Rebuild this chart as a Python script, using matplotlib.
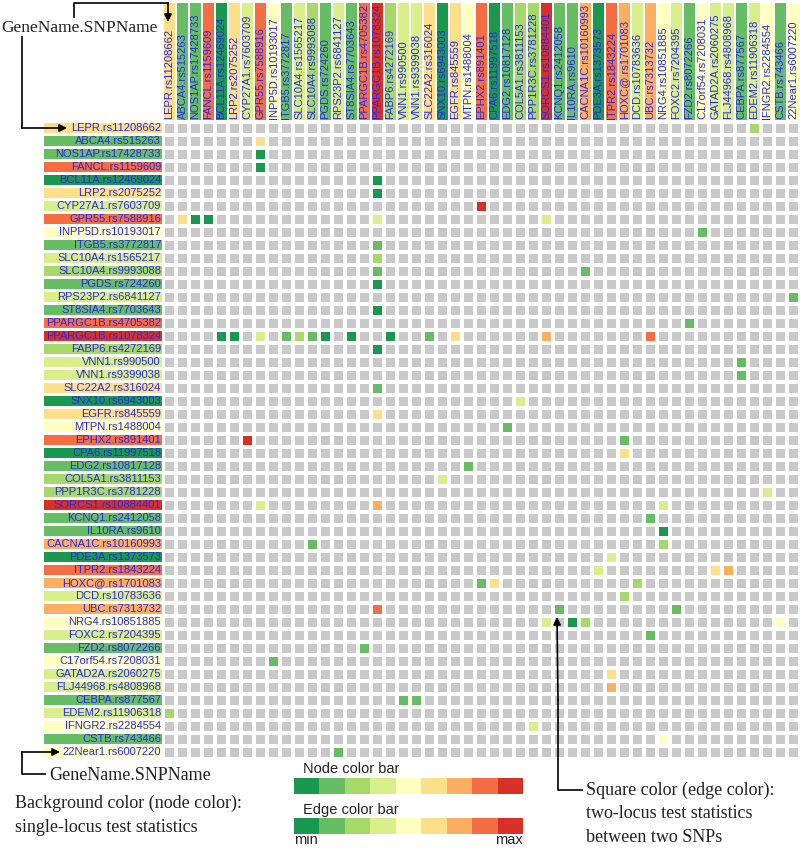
import numpy as np
import matplotlib
matplotlib.use('Agg')
import matplotlib.pyplot as plt
from matplotlib.colors import ListedColormap
from matplotlib.patches import Rectangle

# 9-step colour scale, min (green) -> max (red)
palette = ['#1a9850', '#66bd63', '#a6d96a', '#d9ef8b', '#ffffbf',
           '#fee08b', '#fdae61', '#f46d43', '#d73027']
grey = '#c9c9c9'
label_blue = '#2b2be0'

snps = ['LEPR.rs11208662', 'ABCA4.rs515263', 'NOS1AP.rs17428733', 'FANCL.rs1159609',
        'BCL11A.rs12469024', 'LRP2.rs2075252', 'CYP27A1.rs7603709', 'GPR55.rs7588916',
        'INPP5D.rs10193017', 'ITGB5.rs3772817', 'SLC10A4.rs1565217', 'SLC10A4.rs9993088',
        'PGDS.rs724260', 'RPS23P2.rs6841127', 'ST8SIA4.rs7703643', 'PPARGC1B.rs4705382',
        'PPARGC1B.rs1078324', 'FABP6.rs4272169', 'VNN1.rs990500', 'VNN1.rs9399038',
        'SLC22A2.rs316024', 'SNX10.rs6943003', 'EGFR.rs845559', 'MTPN.rs1488004',
        'EPHX2.rs891401', 'CPA6.rs11997518', 'EDG2.rs10817128', 'COL5A1.rs3811153',
        'PPP1R3C.rs3781228', 'SORCS1.rs10884401', 'KCNQ1.rs2412058', 'IL10RA.rs9610',
        'CACNA1C.rs10160993', 'PDE3A.rs1373573', 'ITPR2.rs1843224', 'HOXC@.rs1701083',
        'DCD.rs10783636', 'UBC.rs7313732', 'NRG4.rs10851885', 'FOXC2.rs7204395',
        'FZD2.rs8072266', 'C17orf54.rs7208031', 'GATAD2A.rs2060275', 'FLJ44968.rs4808968',
        'CEBPA.rs877567', 'EDEM2.rs11906318', 'IFNGR2.rs2284554', 'CSTB.rs743466',
        '22Near1.rs6007220']

# single-locus statistic, as colour level 0..8
node_level = [5, 1, 1, 7, 0, 5, 3, 7, 4, 1, 3, 2, 1, 3, 1, 7, 8, 2, 3, 3,
              5, 0, 5, 4, 7, 0, 1, 2, 2, 8, 1, 1, 6, 0, 7, 6, 3, 6, 4, 3,
              1, 4, 3, 3, 1, 3, 4, 1, 4]

# two-locus statistic for significant pairs (colour level 0..8)
edge_a = [0, 1, 2, 3, 4, 5, 6, 7, 7, 8, 9, 10, 11, 11, 12, 13, 14, 15, 16, 16,
          16, 16, 16, 18, 19, 21, 23, 24, 25, 28, 29, 30, 31, 32, 33, 34, 34, 35, 37, 38]
edge_b = [45, 7, 7, 7, 16, 16, 24, 16, 29, 41, 16, 16, 16, 32, 16, 48, 16, 40, 17, 20,
          22, 29, 37, 44, 44, 27, 26, 35, 35, 46, 38, 37, 38, 38, 34, 42, 43, 36, 39, 47]
edge_level = [2, 5, 0, 0, 0, 0, 8, 3, 3, 1, 1, 2, 1, 1, 0, 1, 0, 1, 0, 1,
              5, 6, 7, 1, 1, 3, 1, 1, 5, 3, 3, 1, 0, 2, 3, 5, 6, 2, 1, 4]

n = len(snps)
W, H = 800, 848
fig = plt.figure(figsize=(W / 100, H / 100), dpi=100)


def px_axes(x0, y0, x1, y1):
    return fig.add_axes([x0 / W, 1 - y1 / H, (x1 - x0) / W, (y1 - y0) / H])


# ---- matrix of squares ----
mat = np.full((n, n), 9)
for a, b, lv in zip(edge_a, edge_b, edge_level):
    mat[a, b] = lv
    mat[b, a] = lv

ax = px_axes(163, 121.5, 800, 758.5)
ax.pcolormesh(mat, cmap=ListedColormap(palette + [grey]), vmin=-0.5, vmax=9.5,
              edgecolors='white', linewidth=1.5)
ax.set_xlim(0, n)
ax.set_ylim(n, 0)
ax.axis('off')

lab_font = dict(family='Liberation Sans', fontsize=8, color=label_blue)
for i, name in enumerate(snps):
    c = palette[node_level[i]]
    # row label
    ax.add_patch(Rectangle((-9.15, i + 0.08), 9.05, 0.84, color=c, clip_on=False, lw=0))
    ax.text(-0.15, i + 0.5, name, ha='right', va='center', **lab_font)
    # column label
    ax.add_patch(Rectangle((i + 0.1, -9.12), 0.8, 9.0, color=c, clip_on=False, lw=0))
    ax.text(i + 0.5, -0.2, name, rotation=90, rotation_mode='anchor',
            ha='left', va='center', **lab_font)

# ---- explanatory notes ----
ov = fig.add_axes([0, 0, 1, 1])
ov.set_xlim(0, W)
ov.set_ylim(H, 0)
ov.axis('off')

serif = dict(family='Liberation Serif', fontsize=13, color='#222222', va='center')
sans = dict(family='Liberation Sans', fontsize=10.5, color='#222222', va='center')
arrow = dict(arrowstyle='-|>', color='black', lw=1.2, mutation_scale=11,
             shrinkA=0, shrinkB=0)

ov.text(1, 28, 'GeneName.SNPName', family='Liberation Serif', fontsize=12.5,
        color='#222222', va='center')
ov.plot([74, 74, 168], [17, 3, 3], color='black', lw=1.2)
ov.annotate('', xy=(168, 22), xytext=(168, 3), arrowprops=arrow)
ov.plot([22, 22], [37, 128], color='black', lw=1.2)
ov.annotate('', xy=(67, 128), xytext=(22, 128), arrowprops=arrow)

ov.plot([22, 22, 45], [752, 774, 774], color='black', lw=1.2)
ov.annotate('', xy=(60, 752), xytext=(22, 752), arrowprops=arrow)
ov.text(49, 775, 'GeneName.SNPName', **serif)
ov.text(15, 803, 'Background color (node color):', **serif)
ov.text(15, 827, 'single-locus test statistics', **serif)

ov.plot([558, 558, 582], [700, 790, 790], color='black', lw=1.2)
ov.annotate('', xy=(557, 617), xytext=(558, 700), arrowprops=arrow)
ov.text(586, 790, 'Square color (edge color):', **serif)
ov.text(586, 814, 'two-locus test statistics', **serif)
ov.text(586, 838, 'between two SNPs', **serif)

# ---- colour bars ----
ov.text(303, 769, 'Node color bar', **sans)
ov.text(303, 810, 'Edge color bar', **sans)
ov.text(294, 840, 'min', ha='left', **sans)
ov.text(523, 840, 'max', ha='right', **sans)
for y0 in (778, 818):
    cb = px_axes(294, y0, 523, y0 + 16)
    cb.imshow(np.arange(len(palette))[None, :], cmap=ListedColormap(palette),
              aspect='auto')
    cb.axis('off')

fig.savefig('out.png', dpi=100, facecolor='white')
